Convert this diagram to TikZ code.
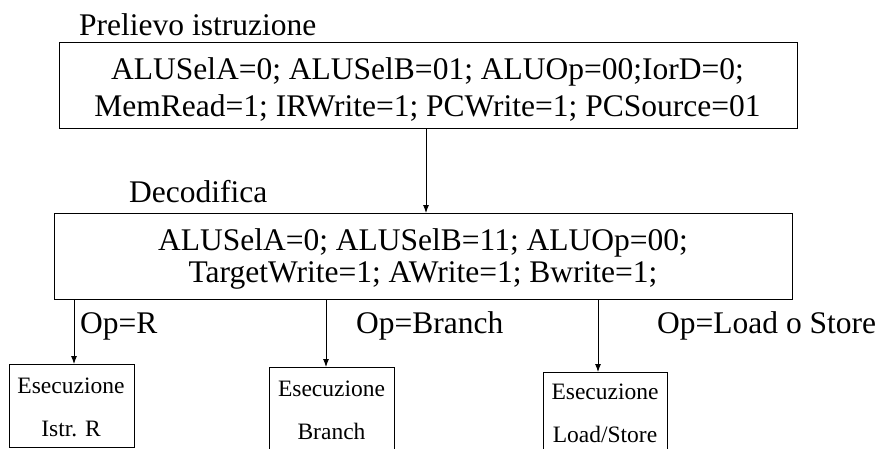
\documentclass[tikz,border=0pt]{standalone}
\usepackage{fontspec}
\setmainfont{Liberation Serif}
\usetikzlibrary{arrows.meta}
\begin{document}
\begin{tikzpicture}[x=1pt,y=-1pt,
  box/.style={draw, line width=1pt, rectangle, inner sep=0pt, anchor=north west},
  bigtxt/.style={font=\fontsize{31.5}{37}\selectfont, inner sep=0pt},
  smalltxt/.style={font=\fontsize{23.5}{43}\selectfont, inner sep=0pt, anchor=base},
  arr/.style={line width=0.9pt, -{Latex[length=8pt,width=6pt]}}
]
\useasboundingbox (0,0) rectangle (880,448);
\clip (0,0) rectangle (880,448);

% boxes
\node[box, minimum width=738, minimum height=86] (fetch) at (59,42) {};
\node[box, minimum width=738, minimum height=86] (decode) at (54,213) {};
\node[box, minimum width=125, minimum height=83] (exR) at (8.5,364) {};
\node[box, minimum width=125, minimum height=95] (exB) at (269,367) {};
\node[box, minimum width=124, minimum height=95] (exLS) at (543,372) {};

% titles
\node[bigtxt, anchor=base west] (fetchtitle) at (79,35) {Prelievo istruzione};
\node[bigtxt, anchor=base west] (decodetitle) at (129,202) {Decodifica};

% box texts
\node[bigtxt, anchor=base] (fetchtext) at (427.5,79) {\begin{tabular}[t]{@{}c@{}}ALUSelA=0; ALUSelB=01; ALUOp=00;IorD=0;\\MemRead=1; IRWrite=1; PCWrite=1; PCSource=01\end{tabular}};
\node[bigtxt, anchor=base, font=\fontsize{31.5}{32}\selectfont] (decodetext) at (423,250) {\begin{tabular}[t]{@{}c@{}}ALUSelA=0; ALUSelB=11; ALUOp=00;\\TargetWrite=1; AWrite=1; Bwrite=1;\end{tabular}};

\node[smalltxt] (exRtext) at (71,393) {\begin{tabular}[t]{@{}c@{}}Esecuzione\\Istr. R\end{tabular}};
\node[smalltxt] (exBtext) at (331.5,396) {\begin{tabular}[t]{@{}c@{}}Esecuzione\\Branch\end{tabular}};
\node[smalltxt] (exLStext) at (605,399.5) {\begin{tabular}[t]{@{}c@{}}Esecuzione\\Load/Store\end{tabular}};

% condition labels
\node[bigtxt, anchor=base west] (lR) at (80,333) {Op=R};
\node[bigtxt, anchor=base west] (lB) at (356,333) {Op=Branch};
\node[bigtxt, anchor=base west] (lLS) at (657,333) {Op=Load o Store};

% connectors
\coordinate (x0) at (426,0);
\coordinate (x1) at (74,0);
\coordinate (x2) at (326,0);
\coordinate (x3) at (598,0);
\draw[arr] (fetch.south -| x0) -- (decode.north -| x0);
\draw[arr] (decode.south -| x1) -- (exR.north -| x1);
\draw[arr] (decode.south -| x2) -- (exB.north -| x2);
\draw[arr] (decode.south -| x3) -- (exLS.north -| x3);
\end{tikzpicture}
\end{document}
